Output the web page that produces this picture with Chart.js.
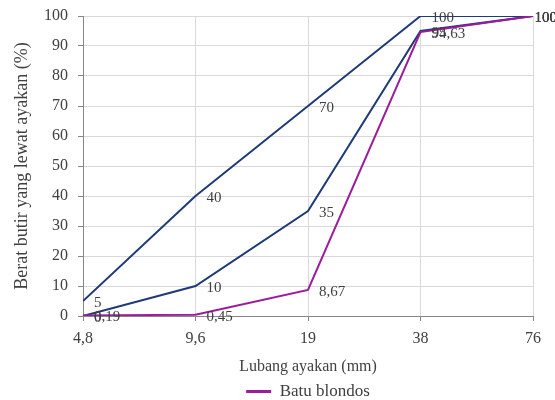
<!DOCTYPE html>
<html>
<head>
<meta charset="utf-8">
<script src="https://cdn.jsdelivr.net/npm/chart.js@4"></script>
<style>
  html, body { margin: 0; padding: 0; background: #fff; }
  #wrap { width: 555px; height: 400px; }
</style>
</head>
<body>
<div id="wrap"><canvas id="gradChart" width="555" height="400"></canvas></div>
<script>
// ===== Data =====
const sieveSizes = ['4,8', '9,6', '19', '38', '76'];
const upperLimit = [5, 40, 70, 100, 100];
const lowerLimit = [0, 10, 35, 95, 100];
const batuBlondos = [0.19, 0.45, 8.67, 94.63, 100];
const yTicks = [0, 10, 20, 30, 40, 50, 60, 70, 80, 90, 100];

const serif = '"Liberation Serif", "DejaVu Serif", serif';
const navy = '#1f3a78';
const purple = '#9c1a9c';
const textGrey = '#404040';

// ===== Point value labels (right of each point, kept inside the canvas) =====
const valueLabels = {
    id: 'valueLabels',
    afterDatasetsDraw(chart) {
        const ctx = chart.ctx;
        ctx.save();
        ctx.font = '15px ' + serif;
        ctx.fillStyle = textGrey;
        ctx.textAlign = 'left';
        ctx.textBaseline = 'middle';
        chart.data.datasets.forEach((ds, i) => {
            const meta = chart.getDatasetMeta(i);
            meta.data.forEach((pt, j) => {
                const txt = String(ds.data[j]).replace('.', ',');
                const w = ctx.measureText(txt).width;
                const x = Math.min(pt.x + 11, chart.width - w + 2);
                ctx.fillText(txt, x, pt.y + 2);
            });
        });
        ctx.restore();
    }
};

// ===== Nudge legend a bit lower, like the original =====
const legendNudge = {
    id: 'legendNudge',
    afterLayout(chart) {
        if (chart.legend) {
            chart.legend.top += 10;
            chart.legend.bottom += 10;
        }
    }
};

// ===== Chart =====
new Chart(document.getElementById('gradChart'), {
    type: 'line',
    data: {
        labels: sieveSizes,
        datasets: [
            { label: 'Batu blondos', data: batuBlondos, borderColor: purple, backgroundColor: purple, borderWidth: 2 },
            { label: 'Batas atas', data: upperLimit, borderColor: navy, backgroundColor: navy, borderWidth: 2, clip: 0 },
            { label: 'Batas bawah', data: lowerLimit, borderColor: navy, backgroundColor: navy, borderWidth: 2 }
        ]
    },
    options: {
        responsive: false,
        animation: false,
        layout: { padding: { left: 0, right: 22, top: 16, bottom: 0 } },
        elements: {
            point: { radius: 0, hoverRadius: 0 },
            line: { tension: 0 }
        },
        plugins: {
            tooltip: { enabled: false },
            legend: {
                position: 'bottom',
                fullSize: false,
                labels: {
                    filter: item => item.text === 'Batu blondos',
                    boxWidth: 25,
                    boxHeight: 0,
                    padding: 0,
                    color: textGrey,
                    font: { family: serif, size: 17 },
                    generateLabels(chart) {
                        const items = Chart.defaults.plugins.legend.labels.generateLabels(chart);
                        items.forEach(it => { it.lineWidth = 3; it.strokeStyle = purple; });
                        return items;
                    }
                }
            }
        },
        scales: {
            x: {
                offset: false,
                grid: { color: '#d9d9d9', tickLength: 5, tickColor: '#868686' },
                border: { color: '#868686' },
                ticks: { color: textGrey, font: { family: serif, size: 16 }, padding: 8, maxRotation: 0 },
                title: { display: true, text: 'Lubang ayakan (mm)', color: textGrey, font: { family: serif, size: 16 }, padding: { top: 4, bottom: -3 } },
                afterFit(scale) { scale.height = 57; }
            },
            y: {
                min: 0,
                max: 100,
                afterBuildTicks(scale) { scale.ticks = yTicks.map(v => ({ value: v })); },
                grid: { color: '#d9d9d9', tickLength: 5, tickColor: '#868686' },
                border: { color: '#868686' },
                ticks: { color: textGrey, font: { family: serif, size: 16 }, padding: 10 },
                title: { display: true, text: 'Berat butir yang lewat ayakan (%)', color: textGrey, font: { family: serif, size: 18 }, padding: { top: 11, bottom: 4 } },
                afterFit(scale) { scale.width = 83; scale.paddingTop = 0; }
            }
        }
    },
    plugins: [valueLabels, legendNudge]
});
</script>
</body>
</html>
